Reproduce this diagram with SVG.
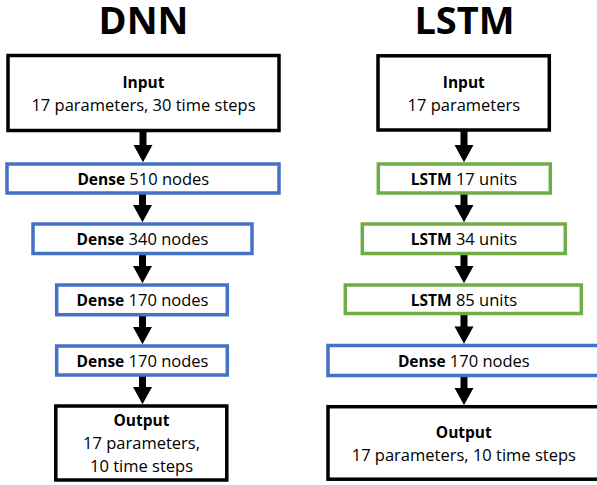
<svg xmlns="http://www.w3.org/2000/svg" width="597" height="485" viewBox="0 0 597 485">
<style>
text{font-family:"Open Sans","Noto Sans","Liberation Sans",sans-serif;font-size:16.5px;fill:#000;text-anchor:middle}
.b{font-weight:700;font-size:15.5px}
.title{font-weight:700;font-size:38px}
.box{fill:#fff;stroke-width:3.5}
.blk{stroke:#000}
.blu{stroke:#4472C4}
.grn{stroke:#70AD47}
.arr{fill:#000}
</style>
<rect width="597" height="485" fill="#fff"/>
<text class="title" x="143.5" y="33.5">DNN</text>
<text class="title" x="464.5" y="33.5">LSTM</text>
<g id="connectors">
<path class="arr" d="M139.5 130V145H133.5L143 162.3L152.5 145H146.5V130Z"/>
<path class="arr" d="M139 193V205H133L142.5 222.3L152 205H146V193Z"/>
<path class="arr" d="M139 253.5V266H133L142.5 283.3L152 266H146V253.5Z"/>
<path class="arr" d="M139 314.7V327H133L142.5 344.3L152 327H146V314.7Z"/>
<path class="arr" d="M139 375V387H133L142.5 404.3L152 387H146V375Z"/>
<path class="arr" d="M460.5 130V145H454.5L464 162.3L473.5 145H467.5V130Z"/>
<path class="arr" d="M460.5 193V205H454.5L464 222.3L473.5 205H467.5V193Z"/>
<path class="arr" d="M460.5 253.5V266H454.5L464 283.3L473.5 266H467.5V253.5Z"/>
<path class="arr" d="M460.5 313.3V326.5H454.5L464 343.7L473.5 326.5H467.5V313.3Z"/>
<path class="arr" d="M460.5 375.3V388H454.5L464 405L473.5 388H467.5V375.3Z"/>
</g>
<g id="dnn-input">
<rect class="box blk" x="8" y="55.5" width="271" height="75"/>
<text x="143.5" y="88"><tspan class="b">Input</tspan></text>
<text x="143.5" y="110.5">17 parameters, 30 time steps</text>
</g>
<g id="dnn-dense1">
<rect class="box blu" x="7" y="164" width="272" height="29"/>
<text x="143.3" y="185"><tspan class="b">Dense</tspan> 510 nodes</text>
</g>
<g id="dnn-dense2">
<rect class="box blu" x="33" y="224" width="219" height="29.5"/>
<text x="142.5" y="245"><tspan class="b">Dense</tspan> 340 nodes</text>
</g>
<g id="dnn-dense3">
<rect class="box blu" x="56.7" y="285" width="170.6" height="29.7"/>
<text x="142.5" y="305.7"><tspan class="b">Dense</tspan> 170 nodes</text>
</g>
<g id="dnn-dense4">
<rect class="box blu" x="56.7" y="346" width="170.6" height="29"/>
<text x="142.5" y="366.7"><tspan class="b">Dense</tspan> 170 nodes</text>
</g>
<g id="dnn-output">
<rect class="box blk" x="55.8" y="406" width="171" height="74"/>
<text x="141.5" y="426"><tspan class="b">Output</tspan></text>
<text x="141.5" y="449">17 parameters,</text>
<text x="141.5" y="471.7">10 time steps</text>
</g>
<g id="lstm-input">
<rect class="box blk" x="378" y="55.8" width="171.3" height="74.2"/>
<text x="463.8" y="88"><tspan class="b">Input</tspan></text>
<text x="463.8" y="110.5">17 parameters</text>
</g>
<g id="lstm-1">
<rect class="box grn" x="378.3" y="164" width="172" height="29"/>
<text x="464" y="185"><tspan class="b">LSTM</tspan> 17 units</text>
</g>
<g id="lstm-2">
<rect class="box grn" x="362.3" y="224" width="203" height="29.5"/>
<text x="464" y="245"><tspan class="b">LSTM</tspan> 34 units</text>
</g>
<g id="lstm-3">
<rect class="box grn" x="345.3" y="285" width="236" height="28.5"/>
<text x="464" y="305.7"><tspan class="b">LSTM</tspan> 85 units</text>
</g>
<g id="lstm-dense">
<rect class="box blu" x="328" y="345.5" width="272" height="30"/>
<text x="463.8" y="366.7"><tspan class="b">Dense</tspan> 170 nodes</text>
</g>
<g id="lstm-output">
<rect class="box blk" x="328" y="406.7" width="272" height="72.5"/>
<text x="463.8" y="438"><tspan class="b">Output</tspan></text>
<text x="463.8" y="461">17 parameters, 10 time steps</text>
</g>
</svg>
